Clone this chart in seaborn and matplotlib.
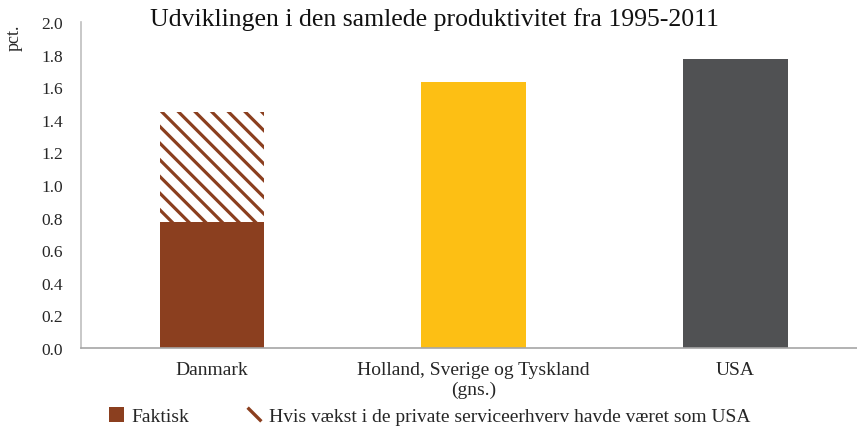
import matplotlib
matplotlib.use("Agg")
import matplotlib.pyplot as plt
import seaborn as sns
import pandas as pd
import numpy as np
from matplotlib.patches import Patch
from matplotlib.lines import Line2D

categories = ["Danmark", "Holland, Sverige og Tyskland\n(gns.)", "USA"]
faktisk = [0.77, 1.63, 1.77]
potentiel = [1.45, np.nan, np.nan]
colors = ["#8B3F1F", "#FDBF14", "#505153"]
yticks = [0.0, 0.2, 0.4, 0.6, 0.8, 1.0, 1.2, 1.4, 1.6, 1.8, 2.0]
title = "Udviklingen i den samlede produktivitet fra 1995-2011"
legend_labels = ["Faktisk", "Hvis vækst i de private serviceerhverv havde været som USA"]

sns.set_theme(style="white")
plt.rcParams["font.family"] = ["Liberation Serif", "DejaVu Serif"]
plt.rcParams["hatch.linewidth"] = 2.3
plt.rcParams["hatch.color"] = colors[0]

df = pd.DataFrame({"kategori": categories, "faktisk": faktisk, "potentiel": potentiel})

fig = plt.figure(figsize=(8.57, 4.31), dpi=100)
ax = fig.add_axes([81 / 857, (431 - 349) / 431, 785 / 857, (349 - 23) / 431])

# hatched (potential) bar
sns.barplot(data=df, x="kategori", y="potentiel", ax=ax, width=0.40,
            color="white", linewidth=0)
for p in ax.patches:
    p.set_hatch("\\\\")
    p.set_edgecolor(colors[0])
    p.set_facecolor("white")
    p.set_linewidth(0)

sns.barplot(data=df, x="kategori", y="faktisk", hue="kategori", palette=colors,
            ax=ax, width=0.40, legend=False, linewidth=0, saturation=1)

ax.set_ylim(0, 2.0)
ax.set_yticks(yticks)
ax.set_yticklabels([f"{t:.1f}" for t in yticks], fontsize=12.5, color="#262626")
ax.tick_params(axis="x", labelsize=14, colors="#262626", length=0, pad=9.5)
ax.tick_params(axis="y", length=0, pad=13)
ax.set_xlabel("")
ax.set_ylabel("")
for s in ["top", "right"]:
    ax.spines[s].set_visible(False)
ax.spines["left"].set_color("#BFBFBF")
ax.spines["bottom"].set_color("#A6A6A6")
ax.spines["left"].set_linewidth(1.2)
ax.spines["bottom"].set_linewidth(1.2)

fig.text(14 / 857, 1 - 38 / 431, "pct.", rotation=90, fontsize=13,
         ha="center", va="center", color="#262626")
fig.text(434 / 857, 1 - 20 / 431, title, fontsize=18.5, ha="center", va="center", color="#111111")

handles = [Patch(facecolor=colors[0], edgecolor="none"),
           Line2D([], [], color=colors[0], marker=(2, 0, 45), linestyle="none",
                  markersize=14, markeredgewidth=2.4)]
fig.legend(handles, legend_labels, loc="lower left", bbox_to_anchor=(91 / 857, -0.03),
           ncol=2, frameon=False, fontsize=14, handlelength=0.8, handleheight=0.8,
           handletextpad=0.4, columnspacing=2.9)

fig.savefig("out.png", dpi=100)
